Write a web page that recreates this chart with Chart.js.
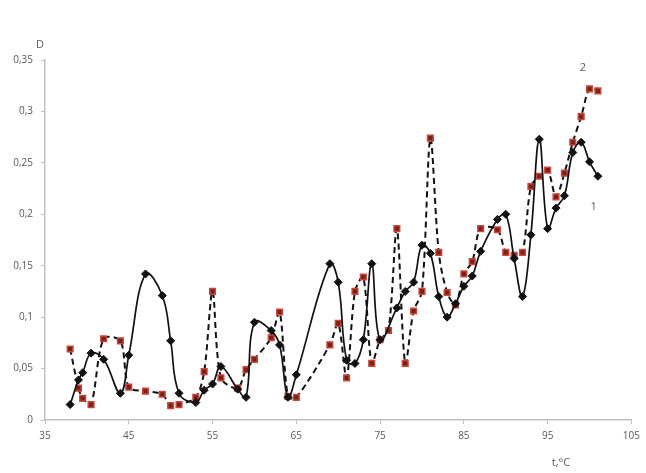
<!DOCTYPE html>
<html>
<head>
<meta charset="utf-8">
<script src="https://cdn.jsdelivr.net/npm/chart.js@4"></script>
<style>
    html, body { margin: 0; padding: 0; background: #fff; }
    #wrap { width: 646px; height: 473px; }
</style>
</head>
<body>
<div id="wrap"><canvas id="chart"></canvas></div>
<script>
// series 1 (solid, black diamonds)
const temps1 = [38, 39, 39.5, 40.5, 42, 44, 45, 47, 49, 50, 51, 53, 54, 55, 56, 58, 59, 60, 62, 63, 64, 65,
    69, 70, 71, 72, 73, 74, 75, 77, 78, 79, 80, 81, 82, 83, 84, 85, 86, 87, 89, 90, 91, 92, 93, 94, 95,
    96, 97, 98, 99, 100, 101];
const values1 = [0.015, 0.039, 0.046, 0.065, 0.059, 0.026, 0.063, 0.142, 0.121, 0.077, 0.026, 0.017, 0.029,
    0.035, 0.052, 0.030, 0.022, 0.095, 0.087, 0.073, 0.022, 0.044,
    0.152, 0.134, 0.058, 0.055, 0.078, 0.152, 0.078, 0.109, 0.125, 0.134, 0.170, 0.162, 0.120, 0.100,
    0.113, 0.130, 0.140, 0.164, 0.195, 0.200, 0.157, 0.120, 0.180, 0.273, 0.186,
    0.206, 0.218, 0.260, 0.270, 0.251, 0.237];

// series 2 (dashed, red squares)
const temps2 = [38, 39, 39.5, 40.5, 42, 44, 45, 47, 49, 50, 51, 53, 54, 55, 56, 58, 59, 60, 62, 63, 64, 65,
    69, 70, 71, 72, 73, 74, 75, 76, 77, 78, 79, 80, 81, 82, 83, 84, 85, 86, 87, 89, 90, 91, 92, 93, 94,
    95, 96, 97, 98, 99, 100, 101];
const values2 = [0.069, 0.031, 0.021, 0.015, 0.079, 0.077, 0.032, 0.028, 0.025, 0.014, 0.015, 0.022, 0.047,
    0.125, 0.041, 0.031, 0.049, 0.059, 0.080, 0.105, 0.023, 0.022,
    0.073, 0.094, 0.041, 0.125, 0.139, 0.055, 0.078, 0.087, 0.186, 0.055, 0.106, 0.125, 0.274, 0.163,
    0.124, 0.112, 0.142, 0.154, 0.186, 0.185, 0.163, 0.160, 0.163, 0.227, 0.237,
    0.243, 0.217, 0.240, 0.270, 0.295, 0.322, 0.320];

const xTicks = [35, 45, 55, 65, 75, 85, 95, 105];
const yTicks = [0, 0.05, 0.1, 0.15, 0.2, 0.25, 0.3, 0.35];

const axisColor = '#bfbfbf';
const textColor = '#595959';
const FONT = 'Open Sans';

const toPoints = (xs, ys) => xs.map((x, i) => ({ x, y: ys[i] }));
const fmtComma = v => String(+v.toFixed(2)).replace('.', ',');

// loose labels: axis names and series numbers
const labelsPlugin = {
    id: 'labels',
    afterDraw(chart) {
        const { ctx, scales: { x, y } } = chart;
        ctx.save();
        ctx.fillStyle = textColor;
        ctx.font = `11px "${FONT}"`;
        ctx.textAlign = 'center';
        ctx.textBaseline = 'middle';
        ctx.fillText('D', 40, 45);
        ctx.fillText('t,°C', 561, 463);
        ctx.fillText('2', x.getPixelForValue(99.2), y.getPixelForValue(0.342));
        ctx.fillText('1', x.getPixelForValue(100.5), y.getPixelForValue(0.207));
        ctx.restore();
    }
};

new Chart(document.getElementById('chart'), {
    type: 'scatter',
    data: {
        datasets: [{
            label: '1',
            data: toPoints(temps1, values1),
            showLine: true,
            borderColor: '#111',
            borderWidth: 1.7,
            tension: 0.4,
            pointStyle: 'rectRot',
            pointRadius: 4,
            pointBackgroundColor: '#111',
            pointBorderColor: '#111',
            pointBorderWidth: 1,
            order: 1
        }, {
            label: '2',
            data: toPoints(temps2, values2),
            showLine: true,
            borderColor: '#111',
            borderWidth: 2,
            borderDash: [6, 4],
            tension: 0.3,
            pointStyle: 'rect',
            pointRadius: 4,
            pointBackgroundColor: '#7a2019',
            pointBorderColor: '#c8473a',
            pointBorderWidth: 1.5,
            order: 2
        }]
    },
    options: {
        responsive: true,
        maintainAspectRatio: false,
        animation: false,
        layout: { padding: { left: 0, top: 60, right: 11, bottom: 0 } },
        plugins: {
            legend: { display: false },
            tooltip: { enabled: false }
        },
        scales: {
            x: {
                type: 'linear',
                min: 35, max: 105,
                afterBuildTicks: s => { s.ticks = xTicks.map(v => ({ value: v })); },
                afterFit: s => { s.height = 53; },
                border: { color: axisColor, width: 1.5 },
                grid: { display: true, drawOnChartArea: false, tickLength: 4, color: axisColor },
                ticks: { color: textColor, font: { family: FONT, size: 10 }, padding: 6, maxRotation: 0 }
            },
            y: {
                type: 'linear',
                min: 0, max: 0.35,
                afterBuildTicks: s => { s.ticks = yTicks.map(v => ({ value: v })); },
                afterFit: s => { s.width = 45; },
                border: { color: axisColor, width: 1.5 },
                grid: { display: true, drawOnChartArea: false, tickLength: 4, color: axisColor },
                ticks: { color: textColor, font: { family: FONT, size: 10 }, padding: 8, callback: v => fmtComma(v) }
            }
        }
    },
    plugins: [labelsPlugin]
});
</script>
</body>
</html>
